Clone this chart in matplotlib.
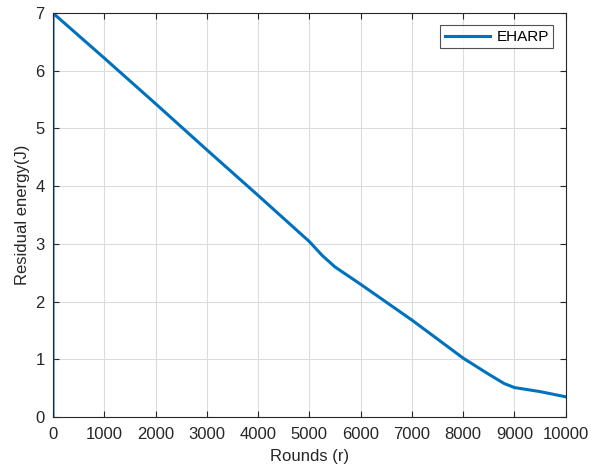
import matplotlib
matplotlib.use("Agg")
import matplotlib.pyplot as plt

plt.rcParams['font.family'] = ['Liberation Sans', 'DejaVu Sans']

# residual energy
rounds = [0, 0, 1000, 2000, 3000, 4000, 5000, 5250, 5500, 6000, 7000, 8000, 8500, 8800, 9000, 9500, 10000]
energy = [0, 7.0, 6.22, 5.43, 4.63, 3.84, 3.04, 2.8, 2.6, 2.3, 1.68, 1.02, 0.74, 0.58, 0.51, 0.44, 0.35]

fig = plt.figure(figsize=(6.06, 4.68), dpi=100)
ax = fig.add_axes([0.0875, 0.109, 0.846, 0.863])

ax.plot(rounds, energy, color='#0072BD', linewidth=2.2, label='EHARP')

ax.set_xlim(0, 10000)
ax.set_ylim(0, 7)
ax.set_xticks(range(0, 10001, 1000))
ax.set_yticks(range(0, 8))
ax.grid(True, color='#dcdcdc', linewidth=0.8)
ax.set_axisbelow(True)
ax.tick_params(direction='in', length=4, labelsize=12, colors='#262626', top=True, right=True,
               labeltop=False, labelright=False)
ax.tick_params(axis='x', pad=7)
ax.tick_params(axis='y', pad=6)
for s in ax.spines.values():
    s.set_color('#262626')
    s.set_linewidth(0.8)

ax.set_xlabel('Rounds (r)', fontsize=12, color='#262626', labelpad=5)
ax.set_ylabel('Residual energy(J)', fontsize=12, color='#262626')
ax.yaxis.set_label_coords(-0.045, 0.5)

leg = ax.legend(loc='upper right', fontsize=11, fancybox=False, edgecolor='#262626',
                handlelength=3, borderaxespad=0.8, handletextpad=0.4, borderpad=0.3)
leg.get_frame().set_linewidth(0.8)

fig.savefig('out.png', dpi=100)
